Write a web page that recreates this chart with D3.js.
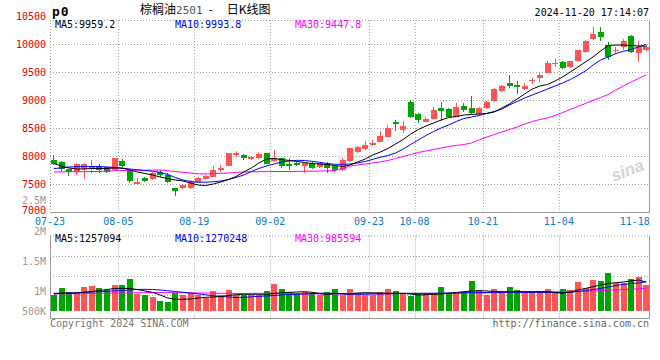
<!DOCTYPE html>
<html><head><meta charset="utf-8">
<script src="https://cdn.jsdelivr.net/npm/d3@7"></script>
<style>body{margin:0;background:#fff}svg{display:block}</style>
</head><body><svg id="c" width="660" height="360"></svg>
<script>
const dates = ["07-23","07-24","07-25","07-26","07-29","07-30","07-31","08-01","08-02","08-05","08-06","08-07","08-08","08-09","08-12","08-13","08-14","08-15","08-16","08-19","08-20","08-21","08-22","08-23","08-26","08-27","08-28","08-29","08-30","09-02","09-03","09-04","09-05","09-06","09-09","09-10","09-11","09-12","09-13","09-18","09-19","09-20","09-23","09-24","09-25","09-26","09-27","09-30","10-08","10-09","10-10","10-11","10-14","10-15","10-16","10-17","10-18","10-21","10-22","10-23","10-24","10-25","10-28","10-29","10-30","10-31","11-01","11-04","11-05","11-06","11-07","11-08","11-11","11-12","11-13","11-14","11-15","11-18","11-19"];
const open = [7929,7893,7759,7723,7762,7768,7798,7798,7750,7916,7750,7505,7602,7584,7720,7661,7423,7423,7423,7541,7589,7630,7750,7827,8018,8018,7941,7959,8048,7911,7959,7857,7880,7821,7880,7798,7851,7821,7750,7911,8077,8120,8196,8255,8345,8607,8464,8970,8750,8613,8661,8862,8834,8702,8893,8852,8750,8852,8982,9166,9309,9268,9191,9339,9387,9487,9655,9673,9589,9691,9852,10089,10214,9988,9870,9941,10148,9839,9900];
const high = [8018,7911,7768,7880,7880,7929,7857,7800,7965,7941,7760,7602,7630,7710,7750,7690,7430,7495,7566,7625,7660,7821,7840,8060,8089,8030,7990,8066,8060,8107,7965,7959,7900,7880,7890,7880,7900,7830,7959,8150,8179,8268,8286,8452,8554,8643,8625,9000,8760,8690,8880,8970,8850,8940,8952,9071,8870,8990,9210,9270,9446,9339,9300,9398,9477,9700,9727,9690,9700,9900,10070,10304,10304,10036,9946,10095,10166,10048,9977];
const low = [7848,7720,7643,7666,7589,7690,7690,7690,7740,7812,7512,7500,7541,7570,7630,7512,7286,7405,7405,7530,7580,7620,7720,7820,7988,7929,7930,7950,7850,7900,7780,7750,7830,7690,7770,7790,7690,7720,7740,7900,8059,8110,8184,8250,8340,8452,8405,8673,8584,8600,8650,8630,8690,8690,8791,8750,8740,8840,8970,9150,9209,9107,9180,9286,9316,9480,9584,9560,9580,9680,9840,10080,10048,9720,9821,9898,9839,9673,9870];
const close = [7857,7759,7714,7857,7857,7804,7750,7709,7959,7821,7559,7541,7559,7702,7661,7541,7380,7482,7541,7612,7643,7750,7791,8048,8048,7959,7977,8030,7857,7959,7821,7821,7840,7870,7780,7870,7780,7750,7929,8137,8155,8196,8237,8357,8495,8577,8536,8702,8643,8655,8821,8810,8702,8870,8821,8762,8852,8970,9196,9250,9255,9238,9250,9357,9446,9655,9666,9571,9691,9887,10059,10184,10120,9768,9898,10048,9852,9946,9941];
const ma5 = [7866,7821,7786,7768,7768,7777,7777,7777,7786,7786,7750,7714,7688,7661,7625,7598,7571,7554,7518,7482,7473,7500,7536,7580,7634,7714,7786,7875,7946,7955,7937,7920,7902,7884,7866,7857,7848,7830,7813,7839,7893,7946,8018,8071,8134,8214,8295,8393,8473,8536,8589,8643,8688,8705,8732,8741,8750,8759,8786,8857,8929,9018,9107,9196,9250,9277,9339,9411,9500,9589,9679,9768,9875,9973,9982,9982,9973,9964,9959.2];
const ma10 = [7777,7786,7804,7809,7813,7813,7813,7804,7795,7780,7768,7755,7741,7727,7709,7670,7616,7571,7545,7530,7532,7541,7554,7580,7616,7661,7723,7777,7821,7857,7893,7911,7923,7920,7905,7888,7866,7852,7852,7857,7875,7902,7941,7979,8009,8054,8125,8205,8286,8366,8437,8500,8554,8616,8670,8696,8723,8759,8795,8839,8911,8973,9036,9089,9143,9196,9250,9304,9366,9438,9518,9625,9714,9768,9830,9870,9900,9950,9993.8];
const ma30 = [7714,7716,7718,7720,7721,7723,7723,7732,7736,7739,7741,7745,7746,7750,7750,7736,7723,7709,7696,7682,7679,7688,7691,7696,7709,7714,7718,7720,7721,7723,7723,7723,7725,7727,7729,7732,7736,7741,7777,7821,7839,7857,7875,7896,7920,7955,7991,8027,8063,8089,8116,8143,8170,8188,8205,8232,8286,8339,8384,8429,8473,8518,8571,8616,8652,8679,8723,8777,8830,8884,8938,8991,9045,9098,9180,9250,9320,9385,9447.8];
// volume in thousands
const volumeK = [696,1013,839,770,1057,1100,1013,913,1143,1143,1391,739,696,609,435,391,770,696,770,696,552,870,696,913,696,696,696,696,870,1187,957,813,770,813,770,696,839,957,696,957,770,696,696,839,957,870,726,665,726,796,796,1057,770,770,839,1317,913,696,957,839,1057,913,839,839,839,957,839,957,913,1274,987,1348,1304,1665,1230,1230,1378,1491,1130];
const vma5K = [739,783,770,783,813,848,891,935,978,987,978,935,870,813,696,565,509,509,522,565,596,609,630,674,709,726,726,726,726,761,791,813,826,839,813,761,717,761,761,739,783,796,791,783,770,770,770,739,696,709,726,739,770,804,839,870,883,870,848,839,839,839,839,839,839,839,804,770,826,913,978,1057,1130,1196,1230,1261,1304,1348,1257.094];
const vma10K = [770,770,783,796,813,826,839,857,878,891,913,935,943,935,913,883,848,813,783,739,704,665,630,609,587,596,617,639,652,674,696,713,726,739,761,770,770,761,739,726,726,730,739,739,748,757,765,770,770,770,770,774,783,787,791,796,800,804,809,813,813,813,813,813,813,804,804,804,813,848,883,935,978,1043,1109,1152,1196,1217,1270.248];
const vma30K = [739,745,750,755,760,765,770,775,780,785,790,793,796,798,800,800,798,796,790,785,780,775,770,765,760,760,765,770,770,770,765,760,755,750,745,740,738,740,742,744,746,748,750,752,754,756,758,760,762,764,766,768,770,772,775,780,785,790,795,800,805,810,815,820,825,830,835,840,848,855,862,870,885,900,915,929,943,965,985.594];
const priceTicks = [7000,7500,8000,8500,9000,9500,10000,10500];
const volTicksK = [2500,2000,1500,1000,500];
const volTickLabels = ["2.5M","2M","1.5M","1M","500K"];
const dateTicks = ["07-23","08-05","08-19","09-02","09-23","10-08","10-21","11-04","11-18"];
const maPriceLabels = ["MA5:9959.2","MA10:9993.8","MA30:9447.8"];
const maVolLabels = ["MA5:1257094","MA10:1270248","MA30:985594"];

const RED = "#ff5555", GREEN = "#00a400";
const MONO = "'DejaVu Sans Mono', 'Liberation Mono', monospace";
const svg = d3.select("#c");
const L = 50, R = 650;
const PT = 20, PB = 212, VT = 235.5, VB = 318, VBASE = 311;
const x = d3.scaleBand().domain(dates).range([L, R]).paddingInner(0.24).paddingOuter(0.12);
const step = x.step(), bw = x.bandwidth();
const slot = d => x(d) - step * 0.12;
const cx = d => x(d) + bw / 2;
const y = d3.scaleLinear().domain([7000, 10500]).range([PB, 16]);
const vy = d3.scaleLinear().domain([0, 1000]).range([VBASE, 288]);
const vLab = d3.scaleLinear().domain([1000, 2000]).range([291, 230.5]);

const g = svg.append("g");
const grid = "#a0a0a0";
g.selectAll(".hg").data(priceTicks.filter(t => t > 7000 && t < 10500)).join("line")
  .attr("x1", L).attr("x2", R).attr("y1", d => Math.round(y(d)) + 0.5).attr("y2", d => Math.round(y(d)) + 0.5)
  .attr("stroke", grid).attr("stroke-dasharray", "1,2");
const vg = dateTicks.slice(1, -1);
g.selectAll(".vg").data(vg).join("line")
  .attr("x1", d => Math.round(slot(d)) + 0.5).attr("x2", d => Math.round(slot(d)) + 0.5)
  .attr("y1", PT).attr("y2", PB).attr("stroke", grid).attr("stroke-dasharray", "1,2");
g.selectAll(".vg2").data(vg).join("line")
  .attr("x1", d => Math.round(slot(d)) + 0.5).attr("x2", d => Math.round(slot(d)) + 0.5)
  .attr("y1", VT).attr("y2", VB).attr("stroke", grid).attr("stroke-dasharray", "1,2");
g.selectAll(".vh").data([256, 275.5, 295]).join("line")
  .attr("x1", L).attr("x2", R).attr("y1", d => Math.round(d) + 0.5).attr("y2", d => Math.round(d) + 0.5)
  .attr("stroke", grid).attr("stroke-dasharray", "1,2");
const frame = (x1, y1, x2, y2, dash) => g.append("line").attr("x1", x1).attr("y1", y1).attr("x2", x2).attr("y2", y2)
  .attr("stroke", "#999").attr("stroke-dasharray", dash || null);
frame(L, PT + 0.5, R, PT + 0.5, "1,2");
frame(L + 0.5, PT, L + 0.5, PB, "1,2");
frame(L, PB + 0.5, R, PB + 0.5);
frame(R - 0.5, PT, R - 0.5, PB);
frame(L, VT + 0.5, R, VT + 0.5, "1,2");
frame(L + 0.5, VT, L + 0.5, VB);
frame(L, VB + 0.5, R, VB + 0.5);
frame(R - 0.5, VT, R - 0.5, VB);

svg.append("text").attr("x", 628).attr("y", 176).attr("text-anchor", "middle")
  .attr("transform", "rotate(-22,628,172)")
  .attr("font-family", "'Liberation Sans', Arial, sans-serif").attr("font-style", "italic").attr("font-weight", "bold")
  .attr("font-size", 17).attr("fill", "#d4d4d4").text("sina");

const idx = d3.range(dates.length);
const col = i => close[i] >= open[i] ? RED : GREEN;
const cg = svg.append("g").attr("shape-rendering", "crispEdges");
cg.selectAll(".wick").data(idx).join("line")
  .attr("x1", i => Math.floor(cx(dates[i])) + 0.5).attr("x2", i => Math.floor(cx(dates[i])) + 0.5)
  .attr("y1", i => y(high[i])).attr("y2", i => y(low[i])).attr("stroke", col);
cg.selectAll(".body").data(idx).join("rect")
  .attr("x", i => Math.round(x(dates[i]))).attr("width", Math.round(bw))
  .attr("y", i => y(Math.max(open[i], close[i])))
  .attr("height", i => Math.max(1, y(Math.min(open[i], close[i])) - y(Math.max(open[i], close[i]))))
  .attr("fill", col);
cg.selectAll(".vbar").data(idx).join("rect")
  .attr("x", i => Math.round(x(dates[i]))).attr("width", Math.round(bw))
  .attr("y", i => vy(volumeK[i])).attr("height", i => VBASE - vy(volumeK[i]))
  .attr("fill", col);

const mline = (arr, sc) => d3.line().x((v, i) => cx(dates[i])).y(v => sc(v))(arr);
const lg = svg.append("g").attr("fill", "none").attr("stroke-width", 1);
[[ma30, "#ff00ff"], [ma10, "#0000ff"], [ma5, "#000000"]].forEach(([a, c]) =>
  lg.append("path").attr("d", mline(a, y)).attr("stroke", c));
[[vma30K, "#ff00ff"], [vma10K, "#0000ff"], [vma5K, "#000000"]].forEach(([a, c]) =>
  lg.append("path").attr("d", mline(a, vy)).attr("stroke", c));

const T = svg.append("g").attr("font-family", MONO).attr("font-size", 10);
T.selectAll(".py").data(priceTicks).join("text")
  .attr("x", 46).attr("y", d => y(d) + (d === 7000 ? 2 : 3.5)).attr("text-anchor", "end").attr("fill", "#e00000").text(d => d);
T.selectAll(".vyl").data(volTicksK).join("text")
  .attr("x", 46).attr("y", d => Math.min(vLab(d), VBASE) + 4).attr("text-anchor", "end").attr("fill", "#999")
  .text((d, i) => volTickLabels[i]);
T.selectAll(".xl").data(dateTicks).join("text")
  .attr("x", d => slot(d)).attr("y", 224.5).attr("text-anchor", "middle").attr("fill", "#0a78cc").text(d => d);
const maCols = ["#000000", "#0000ff", "#ff00ff"], maX = [55, 175, 295];
T.selectAll(".mp").data(maPriceLabels).join("text")
  .attr("x", (d, i) => maX[i]).attr("y", 28).attr("fill", (d, i) => maCols[i]).text(d => d);
T.selectAll(".mv").data(maVolLabels).join("text")
  .attr("x", (d, i) => maX[i]).attr("y", 242).attr("fill", (d, i) => maCols[i]).text(d => d);
T.append("text").attr("x", 649).attr("y", 16).attr("text-anchor", "end").attr("fill", "#000").text("2024-11-20 17:14:07");
T.append("text").attr("x", 50).attr("y", 327).attr("fill", "#777").text("Copyright 2024 SINA.COM");
T.append("text").attr("x", 649).attr("y", 327).attr("text-anchor", "end").attr("fill", "#666").text("http://finance.sina.com.cn");
T.append("text").attr("x", 52).attr("y", 16).attr("font-weight", "bold").attr("font-size", 13).attr("letter-spacing", 1).attr("fill", "#000").text("p0");
const title = svg.append("text").attr("x", 140).attr("y", 14).attr("font-family", "'Noto Sans CJK SC', sans-serif").attr("font-size", 12).attr("fill", "#000");
title.append("tspan").text("棕榈油");
title.append("tspan").attr("font-family", MONO).attr("font-size", 11).attr("fill", "#555").text("2501");
title.append("tspan").attr("dx", 6).text("-");
title.append("tspan").attr("dx", 14).text("日K线图");
</script></body></html>
